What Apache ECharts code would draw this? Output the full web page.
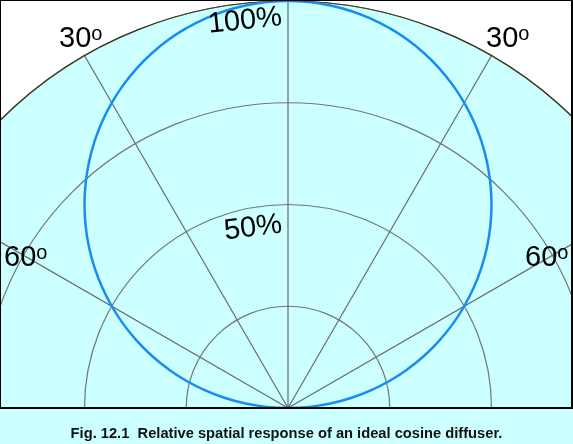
<!DOCTYPE html>
<html>
<head>
<meta charset="utf-8">
<script src="https://cdn.jsdelivr.net/npm/echarts@6/dist/echarts.min.js"></script>
<style>html,body{margin:0;padding:0;background:#fff;}#c{width:573px;height:444px;}</style>
</head>
<body>
<div id="c"></div>
<script>
// Angle from the normal (degrees) and relative response
var angles = [-90,-87,-84,-81,-78,-75,-72,-69,-66,-63,-60,-57,-54,-51,-48,-45,-42,-39,-36,-33,-30,-27,-24,-21,-18,-15,-12,-9,-6,-3,0,3,6,9,12,15,18,21,24,27,30,33,36,39,42,45,48,51,54,57,60,63,66,69,72,75,78,81,84,87,90];
var response = [0,0.0523,0.1045,0.1564,0.2079,0.2588,0.309,0.3584,0.4067,0.454,0.5,0.5446,0.5878,0.6293,0.6691,0.7071,0.7431,0.7771,0.809,0.8387,0.866,0.891,0.9135,0.9336,0.9511,0.9659,0.9781,0.9877,0.9945,0.9986,1,0.9986,0.9945,0.9877,0.9781,0.9659,0.9511,0.9336,0.9135,0.891,0.866,0.8387,0.809,0.7771,0.7431,0.7071,0.6691,0.6293,0.5878,0.5446,0.5,0.454,0.4067,0.3584,0.309,0.2588,0.2079,0.1564,0.1045,0.0523,0];
var radiusTicks = [0, 0.25, 0.5, 0.75, 1];
var angleTicks = [-90, -60, -30, 0, 30, 60, 90];
var radiusLabels = ['50%', '100%'];
var angleLabels = ['30', '60'];
var caption = 'Fig. 12.1  Relative spatial response of an ideal cosine diffuser.';

var chart = echarts.init(document.getElementById('c'), null, {renderer: 'canvas'});
var FONT = '"Liberation Sans", Arial, Helvetica, sans-serif';

function degLabel(txt, x, y) {
  return {
    type: 'text', x: x, y: y, z: 100,
    style: {
      text: '{n|' + txt + '}{s|o}',
      rich: {
        n: {fontSize: 29, fontFamily: FONT, fill: '#000', lineHeight: 30},
        s: {fontSize: 20, fontFamily: FONT, fill: '#000', verticalAlign: 'top', lineHeight: 30, padding: [0, 0, 8, 0]}
      }
    }
  };
}

var option = {
  animation: false,
  backgroundColor: '#fff',
  title: {
    text: caption, left: 'center', top: 426, padding: 0,
    textStyle: {fontSize: 14.7, fontWeight: 'bold', fontFamily: FONT, color: '#111'}
  },
  polar: [
    {center: [288, 408], radius: 407},
    {center: [288, 408], radius: 407}
  ],
  angleAxis: [{
    polarIndex: 0, type: 'value', min: angleTicks[0], max: angleTicks[angleTicks.length - 1], interval: 30,
    startAngle: 180, endAngle: 0, clockwise: true, z: 0,
    axisLine: {show: false}, axisTick: {show: false}, axisLabel: {show: false},
    splitLine: {show: false}, splitArea: {show: false}
  }, {
    polarIndex: 1, type: 'value', min: angleTicks[0], max: angleTicks[angleTicks.length - 1], interval: 30,
    startAngle: 180, endAngle: 0, clockwise: true, z: 3,
    axisLine: {show: true, lineStyle: {color: '#3f3c1c', width: 1.2}},
    axisTick: {show: false}, axisLabel: {show: false},
    splitLine: {show: true, lineStyle: {color: '#6a6a6a', width: 1.2}},
    splitArea: {show: false}
  }],
  radiusAxis: [{
    polarIndex: 0, type: 'value', min: radiusTicks[0], max: radiusTicks[radiusTicks.length - 1], interval: 0.25, z: 0,
    axisLine: {show: false}, axisTick: {show: false}, axisLabel: {show: false},
    splitLine: {show: false},
    splitArea: {show: true, areaStyle: {color: ['#ccffff']}}
  }, {
    polarIndex: 1, type: 'value', min: radiusTicks[0], max: radiusTicks[radiusTicks.length - 1], interval: 0.25, z: 3,
    axisLine: {show: false}, axisTick: {show: false}, axisLabel: {show: false},
    splitLine: {show: true, lineStyle: {color: '#757575', width: 1.2}},
    splitArea: {show: false}
  }],
  series: [{
    type: 'line', coordinateSystem: 'polar', polarIndex: 1, smooth: true, symbol: 'none',
    lineStyle: {color: '#1a8cf0', width: 2.5},
    data: angles.map(function (a, i) { return [response[i], a]; }),
    z: 5
  }],
  graphic: [
    {type: 'rect', z: 100, shape: {x: 0, y: 0, width: 572, height: 408},
     style: {fill: null, stroke: '#000', lineWidth: 2}},
    {type: 'text', x: 245, y: 21, rotation: 6 * Math.PI / 180, z: 100,
     style: {text: radiusLabels[1], font: '29px ' + FONT, fill: '#000', align: 'center', verticalAlign: 'middle'}},
    {type: 'text', x: 253, y: 228, rotation: 7 * Math.PI / 180, z: 100,
     style: {text: radiusLabels[0], font: '29px ' + FONT, fill: '#000', align: 'center', verticalAlign: 'middle'}},
    degLabel(angleLabels[0], 59, 24),
    degLabel(angleLabels[0], 486, 24),
    degLabel(angleLabels[1], 4, 243),
    degLabel(angleLabels[1], 525, 243)
  ]
};
chart.setOption(option);
</script>
</body>
</html>
